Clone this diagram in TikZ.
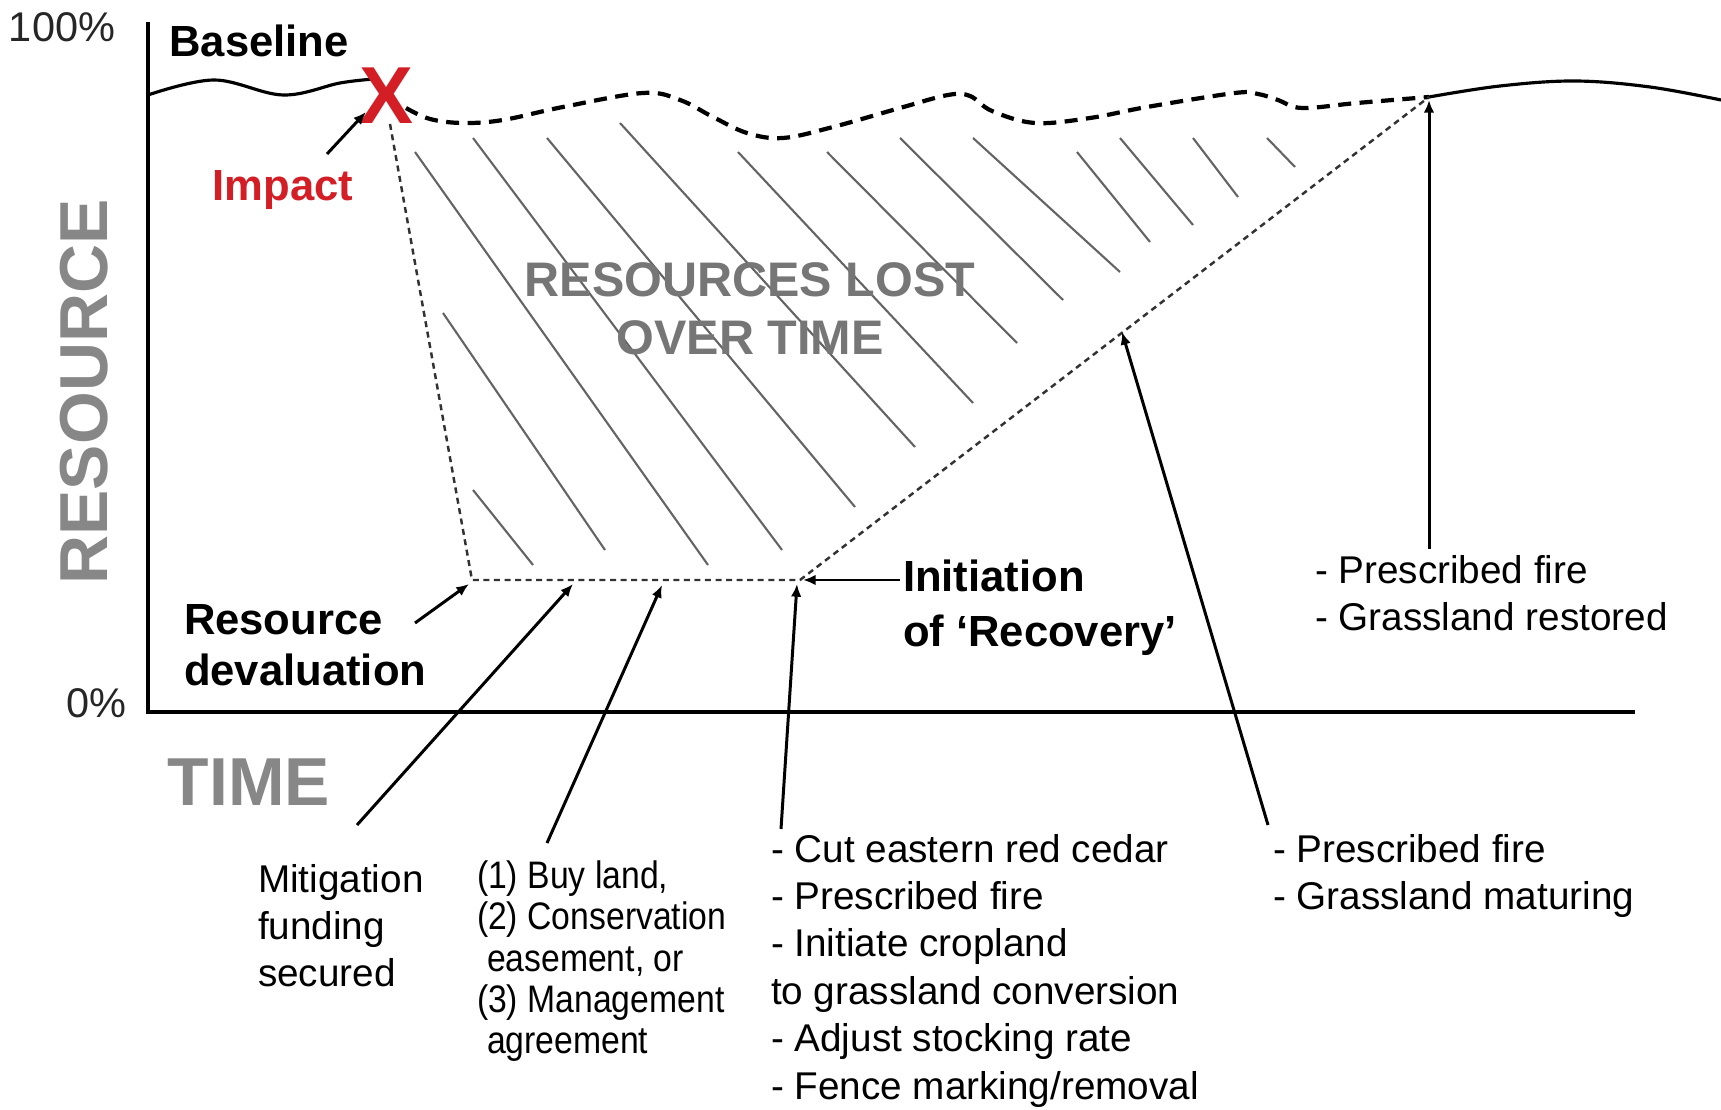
\documentclass[tikz,border=0pt]{standalone}
\usepackage{fontspec}
\setmainfont{Liberation Sans}
\newfontfamily\narrowsans[FakeStretch=0.88]{Liberation Sans}
\usetikzlibrary{arrows.meta}
\definecolor{impactred}{RGB}{212,30,38}
\definecolor{axisgray}{RGB}{135,135,135}
\definecolor{lostgray}{RGB}{118,118,118}
\definecolor{hatchgray}{RGB}{100,100,100}
\definecolor{dotgray}{RGB}{50,50,50}

\begin{document}
\begin{tikzpicture}[x=0.01cm,y=-0.01cm,
  every node/.style={inner sep=0pt, outer sep=0pt},
  axis/.style={line width=0.9pt, black},
  arr/.style={line width=0.85pt, black, -{Latex[length=3.6pt,width=3pt]}},
  trend/.style={line width=0.9pt, black},
  lossline/.style={line width=1.2pt, black, dash pattern=on 3.7pt off 2.4pt},
  guide/.style={line width=0.7pt, dotgray, dash pattern=on 1.7pt off 1.3pt},
  hatch/.style={line width=0.6pt, hatchgray},
  tick/.style={font=\fontsize{11.8}{14}\selectfont, text=black!85, anchor=base},
  axislab/.style={font=\fontsize{19.3}{22}\selectfont\bfseries, text=axisgray},
  boldlab/.style={font=\fontsize{12.4}{14.5}\selectfont\bfseries, align=left},
  lab/.style={font=\fontsize{11}{13.5}\selectfont, align=left, anchor=north west},
  narrowlab/.style={font=\fontsize{10.9}{11.7}\narrowsans, align=left, anchor=north west}
]
\useasboundingbox (0,0) rectangle (1721,1110);

% axes
\coordinate (ytop) at (148,22);
\coordinate (origin) at (148,712);
\coordinate (xend) at (1635,712);
\draw[axis] (ytop) -- (origin) -- (xend);

\node[tick] (pct100) at (62,42) {100\%};
\node[tick] (pct0) at (96,718) {0\%};
\node[axislab, rotate=90] (ylab) at (84,392) {RESOURCE};
\node[axislab, anchor=base] (xlab) at (249,805) {TIME};

% hatching of the lost area
\foreach \ax/\ay/\bx/\by in {415/152/708/565, 473/138/782/550, 443/313/605/550,
    473/490/533/565, 547/138/855/507, 620/123/915/447, 738/152/973/403,
    827/152/1017/343, 900/138/1063/300, 973/138/1120/272, 1077/152/1150/242,
    1120/138/1193/225, 1193/138/1238/197, 1267/138/1295/167}
  \draw[hatch] (\ax,\ay) -- (\bx,\by);

\node[font=\fontsize{13.8}{16.5}\selectfont\bfseries, text=lostgray, align=center, anchor=north]
  (lost) at (750,263) {RESOURCES LOST\\OVER TIME};

% baseline before the impact and after full recovery
\draw[trend] plot[smooth, tension=0.6] coordinates {(148,95) (214,80) (283,95) (340,83) (374,79)};
\draw[trend] plot[smooth, tension=0.6] coordinates {(1429,97) (1500,86) (1575,81) (1650,87) (1721,100)};

% baseline that would have been, had there been no impact
\draw[lossline] plot[smooth, tension=0.6] coordinates {(406,108) (430,119) (463,123) (503,120)
  (563,107) (643,93) (680,100) (713,117) (747,133) (783,138) (833,127) (900,108) (948,95)
  (970,96) (992,111) (1035,123) (1090,118) (1147,107) (1235,93) (1258,94) (1278,100)
  (1302,108) (1357,103) (1429,97)};

% loss and recovery path
\coordinate (dropTop) at (390,124);
\coordinate (devpt) at (472,580);
\coordinate (recpt) at (800,580);
\coordinate (fullpt) at (1429,97);
\draw[guide] (dropTop) -- (devpt) -- (recpt) -- (fullpt);

% impact
\node[font=\fontsize{23}{23}\selectfont\bfseries, text=impactred] (impactx) at (386,96) {X};
\node[boldlab, anchor=base] (baseline) at (259,57) {Baseline};
\node[boldlab, anchor=base, text=impactred] (impact) at (283,201) {Impact};
\coordinate (impTail) at (327,154);
\coordinate (impTip) at (366,112);
\draw[arr] (impTail) -- (impTip);

% labels on the loss path
\node[boldlab, anchor=north west, font=\fontsize{12.4}{14.5}\selectfont\bfseries]
  (devlab) at (184,605) {Resource\\devaluation};
\coordinate (devTail) at (415,623);
\coordinate (devTip) at (469,584);
\draw[arr] (devTail) -- (devTip);

\node[boldlab, anchor=north west, font=\fontsize{12.4}{15.6}\selectfont\bfseries]
  (initlab) at (903,560) {Initiation\\of ‘Recovery’};
\coordinate (initTail) at (900,580);
\coordinate (initTip) at (803,580);
\draw[arr] (initTail) -- (initTip);

% actions along the timeline
\node[lab, font=\fontsize{11}{13.4}\selectfont] (mitlab) at (258,864) {Mitigation\\funding\\secured};
\coordinate (mitTail) at (357,825);
\coordinate (mitTip) at (573,584);
\draw[arr] (mitTail) -- (mitTip);

\node[narrowlab] (buylab) at (477,861)
  {(1) Buy land,\\(2) Conservation\\\hspace*{0.1cm}easement, or\\(3) Management\\\hspace*{0.1cm}agreement};
\coordinate (buyTail) at (547,843);
\coordinate (buyTip) at (662,585);
\draw[arr] (buyTail) -- (buyTip);

\node[lab] (cutlab) at (771,834)
  {- Cut eastern red cedar\\- Prescribed fire\\- Initiate cropland\\to grassland conversion\\- Adjust stocking rate\\- Fence marking/removal};
\coordinate (cutTail) at (781,829);
\coordinate (cutTip) at (797,584);
\draw[arr] (cutTail) -- (cutTip);

\node[lab] (matlab) at (1273,834) {- Prescribed fire\\- Grassland maturing};
\coordinate (matTail) at (1268,825);
\coordinate (matTip) at (1122,332);
\draw[arr] (matTail) -- (matTip);

\node[lab, font=\fontsize{11}{13.4}\selectfont] (restlab) at (1315,555) {- Prescribed fire\\- Grassland restored};
\coordinate (restTail) at (1429,549);
\coordinate (restTip) at (1429,100);
\draw[arr] (restTail) -- (restTip);

\end{tikzpicture}
\end{document}
